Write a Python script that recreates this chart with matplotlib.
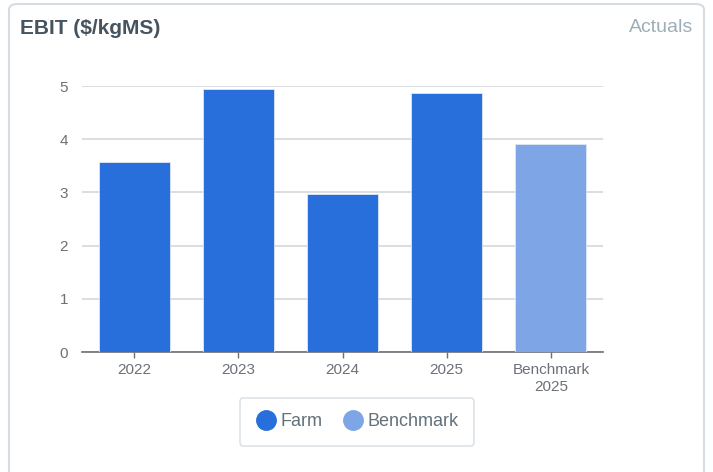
import matplotlib
matplotlib.use('Agg')
import matplotlib.pyplot as plt
from matplotlib.patches import FancyBboxPatch
from matplotlib.lines import Line2D

# EBIT per kg milk solids, farm actuals vs benchmark
categories = ['2022', '2023', '2024', '2025', 'Benchmark\n2025']
ebit = [3.57, 4.94, 2.97, 4.87, 3.91]
series = ['Farm', 'Farm', 'Farm', 'Farm', 'Benchmark']

farm_color = '#286fdc'
bench_color = '#7ea6e6'
text_color = '#6b7177'

plt.rcParams['font.family'] = ['Liberation Sans', 'DejaVu Sans']

fig = plt.figure(figsize=(7.13, 4.72), dpi=100)

# card background with rounded border, kept behind the axes
card = FancyBboxPatch((9 / 713, -0.05), 695 / 713, 1.05 - 4 / 472,
                      boxstyle='round,pad=0,rounding_size=0.012',
                      transform=fig.transFigure, facecolor='white',
                      edgecolor='#d5dde2', linewidth=1.5, zorder=-10)
fig.patches.append(card)

fig.text(20 / 713, 1 - 28 / 472, 'EBIT ($/kgMS)', fontsize=15, fontweight='bold',
         color='#46545f', va='center', ha='left')
fig.text(693 / 713, 1 - 28 / 472, 'Actuals', fontsize=14, color='#9eaeb8',
         va='center', ha='right')

ax = fig.add_axes([82 / 713, 1 - 352 / 472, (603 - 82) / 713, (352 - 86) / 472])
ax.patch.set_alpha(0)
colors = [farm_color if s == 'Farm' else bench_color for s in series]
ax.bar(range(len(categories)), ebit, width=0.68, color=colors,
       edgecolor='#dfe7f3', linewidth=0.6, zorder=3)

ax.set_xlim(-0.5, len(categories) - 0.5)
ax.set_ylim(0, 5)
ax.set_yticks(range(0, 6))
ax.set_xticks(range(len(categories)))
ax.set_xticklabels(categories, linespacing=1.25)
ax.grid(axis='y', color='#d3d8db', linewidth=1.2, zorder=0)
for side in ['top', 'right', 'left']:
    ax.spines[side].set_visible(False)
ax.spines['bottom'].set_color('#6c7075')
ax.spines['bottom'].set_linewidth(1.2)
ax.tick_params(axis='y', length=0, pad=10, labelsize=11, labelcolor=text_color)
ax.tick_params(axis='x', length=4, width=1, color='#6c7075', pad=4,
               labelsize=11, labelcolor=text_color)

handles = [Line2D([], [], marker='o', linestyle='none', markersize=14,
                  markerfacecolor=farm_color, markeredgecolor=farm_color),
           Line2D([], [], marker='o', linestyle='none', markersize=14,
                  markerfacecolor=bench_color, markeredgecolor=bench_color)]
leg = fig.legend(handles, ['Farm', 'Benchmark'], loc='center',
                 bbox_to_anchor=(357 / 713, 1 - 422 / 472), ncol=2,
                 frameon=True, fancybox=True, fontsize=13,
                 handletextpad=0.2, columnspacing=1.1, borderpad=0.85,
                 handlelength=1.2, labelcolor='#62717c')
leg.get_frame().set_edgecolor('#d3dbe0')
leg.get_frame().set_linewidth(1.2)

fig.savefig('out.png', dpi=100)
